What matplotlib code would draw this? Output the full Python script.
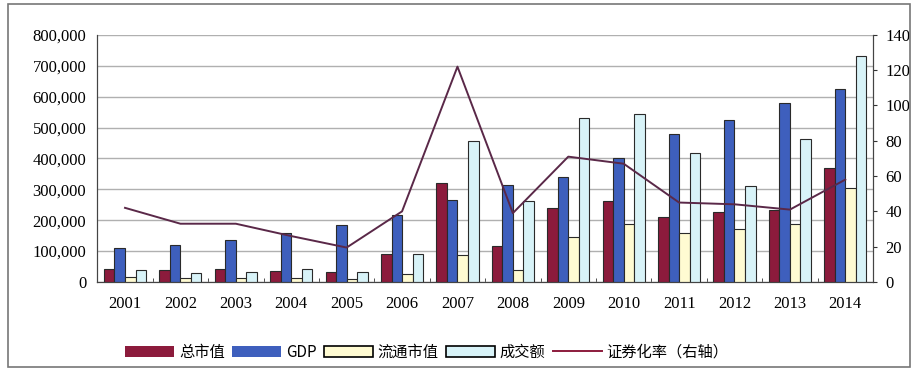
import matplotlib.pyplot as plt
import numpy as np
from matplotlib.patches import Patch, Rectangle
from matplotlib.lines import Line2D

years = ['2001', '2002', '2003', '2004', '2005', '2006', '2007',
         '2008', '2009', '2010', '2011', '2012', '2013', '2014']
total_cap = [43522, 38329, 42458, 37056, 32430, 89404, 322000,
             118000, 240000, 263000, 210000, 228000, 232000, 368000]
gdp = [110000, 120333, 135823, 159878, 184937, 216314, 265810,
       314045, 340903, 401513, 480000, 525000, 578000, 624000]
float_cap = [14463, 12485, 13179, 11689, 10631, 25004, 86000,
             40000, 146000, 187000, 160000, 172000, 189000, 304000]
turnover = [38305, 27990, 32115, 42334, 31664, 90469, 458000,
            263000, 532000, 543000, 418000, 310000, 463000, 732000]
ratio = [42, 33, 33, 26, 19.5, 40, 122, 39, 71, 67, 45, 44, 41, 58]

plt.rcParams['font.family'] = ['Liberation Serif', 'Noto Sans CJK SC']

fig = plt.figure(figsize=(9.18, 3.71), dpi=100)
ax = fig.add_axes([0.106, 0.24, 0.845, 0.666])
ax2 = ax.twinx()

x = np.arange(len(years))
w = 0.19
ec = '#2a2a2a'
ax.bar(x - 1.5 * w, total_cap, w, color='#8c1b3c', edgecolor=ec, linewidth=0.8, zorder=3)
ax.bar(x - 0.5 * w, gdp, w, color='#3e5fbd', edgecolor=ec, linewidth=0.8, zorder=3)
ax.bar(x + 0.5 * w, float_cap, w, color='#fffbd2', edgecolor=ec, linewidth=0.8, zorder=3)
ax.bar(x + 1.5 * w, turnover, w, color='#d8f3f8', edgecolor=ec, linewidth=0.8, zorder=3)

ax2.plot(x, ratio, color='#5a2848', linewidth=1.4)

ax.set_xlim(-0.5, len(years) - 0.5)
ax.set_ylim(0, 800000)
ax2.set_ylim(0, 140)
ax.set_yticks(range(0, 800001, 100000))
ax.set_yticklabels(['0'] + ['{:,}'.format(v) for v in range(100000, 800001, 100000)])
ax2.set_yticks(range(0, 141, 20))
ax.set_xticks(x)
ax.set_xticklabels(years)
ax.set_xticks(x[:-1] + 0.5, minor=True)
ax.grid(axis='y', color='#b0b0b0', linewidth=1.0, zorder=0)

for a in (ax, ax2):
    a.tick_params(labelsize=12, length=3, color='#333333')
    for s in a.spines.values():
        s.set_color('#444444')
ax.spines['top'].set_visible(False)
ax2.spines['top'].set_visible(False)
ax.tick_params(axis='x', length=0, pad=10)
ax.tick_params(axis='x', which='minor', length=3, direction='in', color='#333333')
ax.tick_params(axis='y', length=0, pad=8)
ax2.tick_params(axis='y', pad=6)

handles = [Patch(facecolor='#8c1b3c', edgecolor='none'),
           Patch(facecolor='#3e5fbd', edgecolor='none'),
           Patch(facecolor='#fffbd2', edgecolor='black', linewidth=1.2),
           Patch(facecolor='#d8f3f8', edgecolor='black', linewidth=1.2),
           Line2D([], [], color='#8c1b3c', linewidth=1.4)]
labels = ['总市值', 'GDP', '流通市值', '成交额', '证券化率（右轴）']
fig.legend(handles, labels, loc='center', bbox_to_anchor=(0.465, 0.05), ncol=5,
           frameon=False, handlelength=3.2, handleheight=0.8,
           columnspacing=0.5, handletextpad=0.3,
           prop={'family': ['Noto Sans CJK SC'], 'size': 11})

fig.add_artist(Rectangle((0.009, 0.012), 0.982, 0.976, transform=fig.transFigure,
                         fill=False, edgecolor='#777777', linewidth=1.2))

plt.savefig('out.png')
